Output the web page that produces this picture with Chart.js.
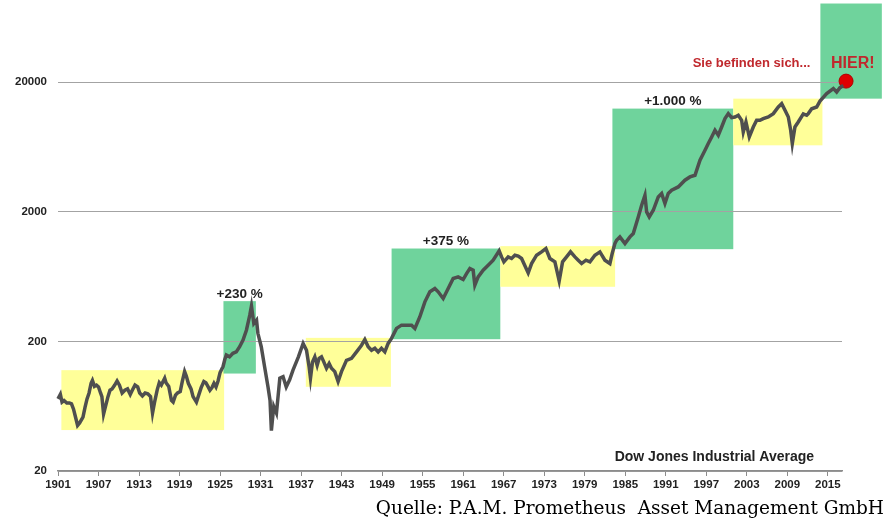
<!DOCTYPE html>
<html>
<head>
<meta charset="utf-8">
<script src="https://cdn.jsdelivr.net/npm/chart.js@4.4.0/dist/chart.umd.min.js"></script>
<style>
html, body { margin:0; padding:0; background:#fff; }
#wrap { width:888px; height:528px; }
</style>
</head>
<body>
<div id="wrap"><canvas id="dow" width="888" height="528"></canvas></div>
<script>
// Dow Jones Industrial Average (year, index)
var years = [1901.0,1901.35,1901.6,1901.9,1902.3,1902.7,1903.0,1903.3,1903.6,1903.9,1904.2,1904.7,1905.0,1905.3,1905.6,1905.9,1906.1,1906.4,1906.7,1907.0,
    1907.3,1907.5,1907.75,1908.0,1908.4,1908.7,1909.0,1909.4,1909.75,1910.1,1910.5,1910.9,1911.3,1911.7,1912.0,1912.4,1912.8,1913.1,1913.5,1913.9,
    1914.3,1914.7,1915.0,1915.3,1915.7,1916.0,1916.3,1916.8,1917.0,1917.4,1917.8,1918.05,1918.4,1918.7,1919.1,1919.4,1919.75,1920.0,1920.3,1920.7,
    1921.0,1921.5,1921.8,1922.2,1922.6,1922.9,1923.2,1923.5,1923.8,1924.1,1924.4,1924.7,1925.0,1925.44,1925.7,1925.93,1926.4,1926.9,1927.4,1927.9,
    1928.4,1928.9,1929.4,1929.65,1930.0,1930.4,1930.6,1931.1,1931.6,1932.1,1932.4,1932.6,1932.95,1933.35,1933.85,1934.33,1934.8,1935.3,1935.8,1936.6,
    1937.3,1937.8,1938.19,1938.39,1938.69,1939.03,1939.38,1939.67,1940.02,1940.36,1940.76,1941.15,1941.5,1941.99,1942.48,1942.98,1943.72,1944.47,1945.21,1945.95,
    1946.44,1946.93,1947.43,1947.92,1948.41,1948.9,1949.4,1949.89,1950.39,1951.13,1951.87,1952.61,1953.36,1953.85,1954.59,1955.33,1956.07,1956.81,1957.3,1958.04,
    1958.78,1959.52,1960.26,1961.0,1961.5,1961.99,1962.48,1962.73,1963.22,1963.96,1964.7,1965.44,1966.33,1966.69,1967.03,1967.67,1968.17,1968.66,1969.15,1969.65,
    1970.63,1971.13,1971.87,1972.61,1973.25,1973.84,1974.58,1975.22,1975.72,1976.31,1976.9,1977.55,1978.04,1978.54,1979.18,1979.77,1980.51,1981.25,1981.99,1982.73,
    1983.07,1983.47,1983.72,1984.21,1984.96,1985.7,1986.19,1986.93,1987.43,1987.92,1988.17,1988.56,1989.15,1989.89,1990.39,1990.88,1991.37,1991.87,1992.85,1993.84,
    1994.58,1995.33,1996.07,1996.81,1997.3,1997.8,1998.29,1998.78,1999.28,1999.77,2000.26,2000.76,2001.25,2001.74,2002.24,2002.48,2002.88,2003.37,2003.96,2004.46,
    2004.95,2005.44,2006.19,2006.93,2007.67,2008.17,2008.66,2009.15,2009.5,2009.74,2010.13,2010.62,2011.37,2011.87,2012.11,2012.61,2013.35,2013.84,2014.83,2015.82,
    2016.31,2016.8,2017.3];
var dow = [72,78,68,70,67,67,66,60,52,45,47,52,62,72,80,95,100,90,92,89,
    80,75,55,62,75,84,86,92,99,92,80,84,86,78,84,92,89,80,76,80,
    79,75,56,68,85,96,92,104,96,90,70,68,77,80,82,98,117,108,95,86,
    75,68,76,88,98,96,90,84,88,95,89,99,115,128,145,157,152,162,166,182,
    205,244,319,375,275,292,231,182,127,89,70,41,63,56,104,107,89,101,120,152,
    193,171,127,104,139,152,131,148,152,139,124,135,124,117,98,117,143,148,166,187,
    207,182,171,177,166,177,166,193,211,252,267,267,267,252,310,404,483,512,483,429,
    512,612,630,601,668,731,709,543,630,709,775,847,1000,898,822,898,873,925,910,873,
    676,798,925,982,1042,873,822,586,822,898,982,898,847,798,847,822,925,982,847,798,
    953,1139,1208,1282,1139,1282,1360,1828,2248,2686,1997,1828,2057,2606,2767,2317,2767,2936,3112,3506,
    3716,3830,4998,5970,6726,7568,8516,7796,9032,10478,11454,10670,10790,11116,10170,8266,9868,7568,9032,10170,
    10170,10478,10790,11454,12880,13678,12140,10790,8516,6726,9032,9868,11400,11116,11454,12480,12880,14300,16340,17860,
    16820,18160,18900];

// "Sie befinden sich... HIER!" marker
var nowYear = 2017.7;
var nowValue = 20400;

// tick labels
var xTicks = [1901,1907,1913,1919,1925,1931,1937,1943,1949,1955,1961,1967,1973,1979,1985,1991,1997,2003,2009,2015];
var yTicks = [20,200,2000,20000];

// shaded phases: sideways (yellow) and rally (green)
var boxKind  = ['side','rally','side','rally','side','rally','side','rally'];
var boxStart = [1901.5,1925.5,1937.7,1950.4,1966.5,1983.1,2001.0,2013.9];
var boxEnd   = [1925.6,1930.3,1950.3,1966.5,1983.5,2001.0,2014.2,2023.0];
var boxLow   = [41.4,113,89.3,208,528,1030,6520,14940];
var boxHigh  = [120,409,213,1042,1087,12520,14940,81000];
var boxGain  = ['','+230 %','','+375 %','','+1.000 %','',''];

var points = [];
for (var i = 0; i < years.length; i++) points.push({x: years[i], y: dow[i]});

var FONT = '"Liberation Sans", Arial, sans-serif';

var phases = {
    id: 'phases',
    beforeDraw: function(chart){
        var ctx = chart.ctx, sx = chart.scales.x, sy = chart.scales.y;
        ctx.save();
        ctx.fillStyle = '#fff';
        ctx.fillRect(0, 0, chart.width, chart.height);
        for (var i = 0; i < boxKind.length; i++){
            var x0 = sx.getPixelForValue(boxStart[i]), x1 = sx.getPixelForValue(boxEnd[i]);
            var y0 = sy.getPixelForValue(boxHigh[i]), y1 = sy.getPixelForValue(boxLow[i]);
            ctx.fillStyle = boxKind[i] == 'rally' ? '#6fd39c' : '#ffff99';
            ctx.fillRect(x0, y0, x1 - x0, y1 - y0);
        }
        ctx.restore();
    },
    afterDraw: function(chart){
        var ctx = chart.ctx, sx = chart.scales.x, sy = chart.scales.y;
        ctx.save();
        ctx.textAlign = 'center';
        ctx.textBaseline = 'middle';
        ctx.fillStyle = '#222';
        ctx.font = 'bold 13.5px ' + FONT;
        for (var i = 0; i < boxGain.length; i++){
            if (!boxGain[i]) continue;
            var cx = (sx.getPixelForValue(boxStart[i]) + sx.getPixelForValue(boxEnd[i])) / 2;
            ctx.fillText(boxGain[i], cx, sy.getPixelForValue(boxHigh[i]) - 7);
        }
        ctx.font = 'bold 14px ' + FONT;
        ctx.fillText('Dow Jones Industrial Average', sx.getPixelForValue(1998.2), sy.getPixelForValue(25.6));

        ctx.fillStyle = '#c0282d';
        ctx.font = 'bold 13px ' + FONT;
        ctx.fillText('Sie befinden sich...', sx.getPixelForValue(2003.7), sy.getPixelForValue(28000));
        ctx.font = 'bold 16px ' + FONT;
        ctx.fillText('HIER!', sx.getPixelForValue(2018.7), sy.getPixelForValue(28000));

        ctx.fillStyle = '#000';
        ctx.textAlign = 'right';
        ctx.font = '18.5px "DejaVu Serif", serif';
        ctx.fillText('Quelle: P.A.M. Prometheus  Asset Management GmbH', 884, 509);
        ctx.restore();
    }
};

new Chart(document.getElementById('dow'), {
    type: 'line',
    data: {
        datasets: [
            {
                data: points,
                borderColor: '#4f4f4f',
                borderWidth: 3.5,
                pointRadius: 0,
                tension: 0,
                clip: false
            },
            {
                type: 'scatter',
                data: [{x: nowYear, y: nowValue}],
                backgroundColor: '#e00000',
                borderColor: '#b00000',
                borderWidth: 1,
                pointRadius: 7,
                clip: false
            }
        ]
    },
    options: {
        responsive: false,
        animation: false,
        devicePixelRatio: 1,
        layout: { padding: { top: 0, right: 46, bottom: 0, left: 0 } },
        plugins: { legend: { display: false }, tooltip: { enabled: false } },
        scales: {
            x: {
                type: 'linear',
                min: 1901,
                max: 2017.1,
                afterBuildTicks: function(s){ s.ticks = xTicks.map(function(v){ return {value: v}; }); },
                afterFit: function(s){ s.height = 57; s.paddingLeft = 0; s.paddingRight = 0; },
                grid: { drawOnChartArea: false, drawTicks: true, tickLength: 5, color: '#8c8c8c' },
                border: { color: '#8c8c8c', width: 1.5 },
                ticks: {
                    autoSkip: false,
                    maxRotation: 0,
                    padding: 2,
                    color: '#222',
                    font: { family: FONT, size: 11.5, weight: 'bold' },
                    callback: function(v){ return String(v); }
                }
            },
            y: {
                type: 'logarithmic',
                min: 20,
                max: 74800,
                afterBuildTicks: function(s){ s.ticks = yTicks.map(function(v){ return {value: v}; }); },
                afterFit: function(s){ s.width = 58; s.paddingTop = 0; s.paddingBottom = 0; },
                grid: { drawTicks: false, color: '#a3a3a3', lineWidth: 1 },
                border: { display: false },
                ticks: {
                    padding: 11,
                    color: '#222',
                    font: { family: FONT, size: 11.5, weight: 'bold' },
                    callback: function(v){ return String(v); }
                }
            }
        }
    },
    plugins: [phases]
});
</script>
</body>
</html>
